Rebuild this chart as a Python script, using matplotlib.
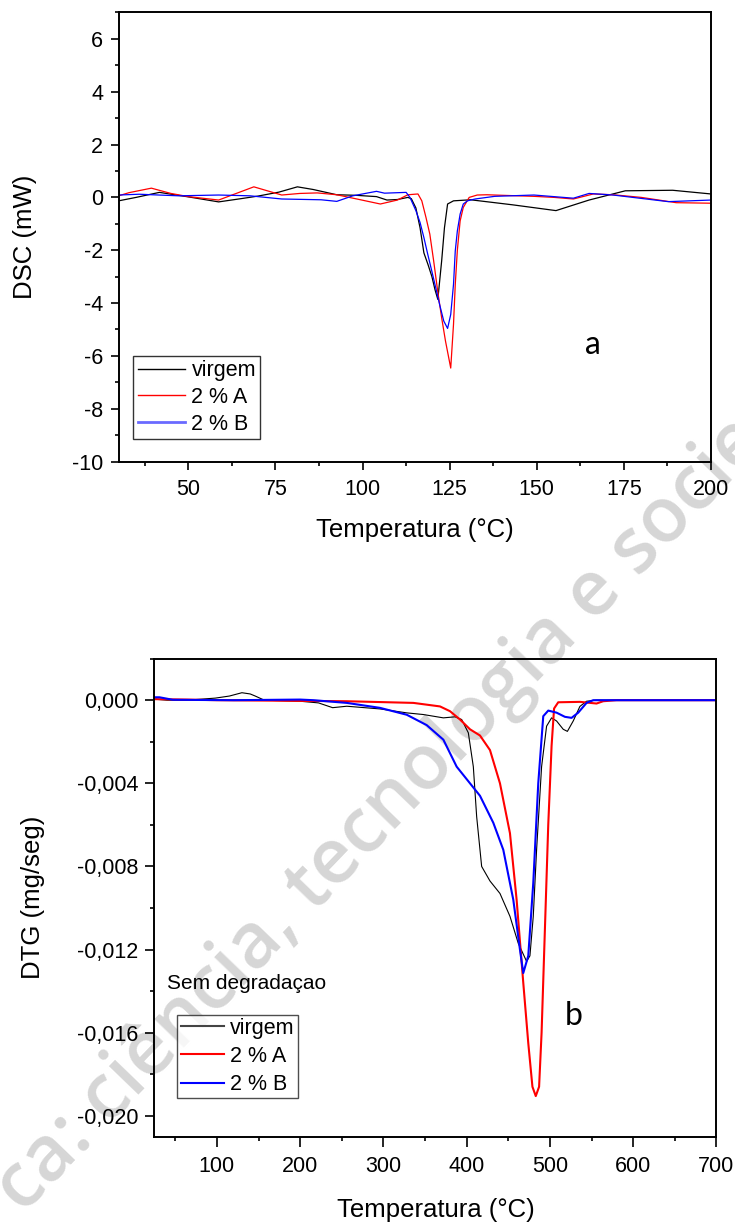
import matplotlib
matplotlib.use('Agg')
import matplotlib.pyplot as plt
from matplotlib.ticker import MultipleLocator, FuncFormatter
from matplotlib.lines import Line2D

# ---- DSC data (panel a) ----
dsc_virgem_t = [30, 35, 41.7, 50, 58.7, 65, 70, 76, 81.3, 85.8, 92.6, 98, 104, 107, 110,
                113.0, 114.0, 115.3, 116.5, 117.6, 118.8, 119.9, 120.8, 121.6, 122.7, 123.5,
                124.4, 126.1, 131, 143, 155.5, 165, 175.4, 189, 200]
dsc_virgem = [-0.13, 0.0, 0.19, 0.02, -0.17, -0.05, 0.05, 0.2, 0.4, 0.3, 0.1, 0.08, 0.03, -0.1, -0.08,
              0.0, -0.05, -0.4, -1.15, -2.1, -2.55, -3.0, -3.5, -3.86, -2.4, -1.15,
              -0.25, -0.13, -0.09, -0.28, -0.5, -0.1, 0.25, 0.27, 0.13]

dsc_a_t = [30, 33, 39.4, 45, 50, 58.7, 68.8, 76.8, 82, 87, 92.6, 98, 105.1, 110, 113, 115.9,
           117.0, 118.2, 119.3, 120.4, 121.55, 122.7, 123.8, 125.3, 126.1, 126.6, 127.2, 128.0,
           128.9, 130.6, 132.9, 135.7, 140, 149.2, 155, 160.5, 166.2, 171.9, 180, 190, 200]
dsc_a = [0.06, 0.18, 0.35, 0.15, 0.03, -0.1, 0.4, 0.09, 0.15, 0.17, 0.1, -0.05, -0.25, -0.1, 0.1, 0.13,
         -0.13, -0.76, -1.39, -2.4, -3.54, -4.56, -5.44, -6.46, -4.8, -3.3, -2.0, -0.89,
         -0.38, 0.0, 0.09, 0.1, 0.08, 0.04, 0.0, -0.06, 0.13, 0.1, 0.0, -0.2, -0.22]

dsc_b_t = [30, 35.9, 47.2, 58.7, 67.7, 76.8, 88.1, 92.6, 97.2, 104, 106.3, 112.5, 113.6,
           115.3, 116.5, 117.6, 118.7, 119.85, 121.0, 122.1, 123.3, 124.4, 125.3, 126.1, 126.6,
           127.2, 128.0, 128.9, 130.1, 132.3, 137.9, 149.2, 160.5, 165, 171.9, 187.7, 200]
dsc_b = [0.09, 0.12, 0.06, 0.09, 0.06, -0.06, -0.09, -0.15, 0.06, 0.23, 0.16, 0.19, 0.0,
         -0.5, -0.95, -1.52, -2.15, -2.78, -3.42, -4.05, -4.68, -4.96, -4.43, -3.29, -2.03,
         -1.27, -0.63, -0.25, -0.13, -0.06, 0.04, 0.09, -0.03, 0.15, 0.09, -0.16, -0.1]

# ---- DTG data (panel b) ----
dtg_virgem_t = [25, 40, 64, 98, 115, 130, 140, 146, 157, 200, 222, 239, 256, 296, 328, 348, 372,
                386, 394, 402, 408, 412, 418, 428, 440, 452, 462, 472, 476, 480, 484, 490, 496,
                502, 508, 516, 521, 528, 536, 544, 556, 700]
dtg_virgem = [0.00005, 0.0, 0.0, 0.0001, 0.0002, 0.00036, 0.0003, 0.0002, 0.0, -0.00005, -0.00013,
              -0.00036, -0.00029, -0.00042, -0.00061, -0.00069, -0.00085, -0.0008, -0.00093,
              -0.00157, -0.0032, -0.0056, -0.008, -0.0087, -0.0093, -0.0104, -0.0117, -0.01257,
              -0.0123, -0.0104, -0.0072, -0.0032, -0.00125, -0.00085, -0.001, -0.0014, -0.0015,
              -0.001, -0.0003, -0.00005, 0.0, 0.0]

dtg_a_t = [25, 64, 100, 256, 336, 368, 380, 392, 404, 416, 428, 440, 452, 460, 468, 474, 479,
           483, 487, 490, 494, 498, 502, 505, 510, 536, 556, 564, 580, 700]
dtg_a = [0.00005, 0.00003, 0.0, -0.00005, -0.00013, -0.0003, -0.00053, -0.00093, -0.0014,
         -0.0017, -0.0024, -0.004, -0.0064, -0.0096, -0.0136, -0.0165, -0.0186, -0.01905,
         -0.0186, -0.016, -0.011, -0.006, -0.0022, -0.0004, -0.0001, -0.00008, -0.00016,
         -0.00005, 0.0, 0.0]

dtg_b_t = [25, 31, 47, 120, 200, 216, 256, 296, 328, 352, 372, 388, 404, 416, 432, 444, 456,
           464, 468, 474, 480, 486, 492, 498, 508, 518, 526, 534, 544, 552, 700]
dtg_b = [0.00014, 0.00014, 0.00002, 0.0, 0.00003, 0.0, -0.00013, -0.00037, -0.0007, -0.0012,
         -0.0019, -0.0032, -0.004, -0.0046, -0.0059, -0.0072, -0.0096, -0.012, -0.01313,
         -0.0123, -0.0088, -0.004, -0.00077, -0.0005, -0.0006, -0.0008, -0.00085, -0.0006,
         -0.00013, 0.0, 0.0]

labels = ['virgem', '2 % A', '2 % B']

plt.rcParams['font.family'] = ['Liberation Sans', 'DejaVu Sans']
plt.rcParams['axes.unicode_minus'] = False

fig = plt.figure(figsize=(7.35, 12.24), dpi=100)

# watermark, drawn behind the (transparent) axes
fig.text(0.031, 0.0074, 'ca: ciência, tecnologia e sociedade', rotation=46,
         rotation_mode='anchor', ha='left', va='baseline', fontsize=55,
         color='#d6d6d6', family='Open Sans', weight='semibold', zorder=-1)


def style_axes(ax, xlen, ylen, xpad):
    ax.set_facecolor('none')
    for s in ax.spines.values():
        s.set_linewidth(1.4)
    ax.tick_params(which='both', direction='out', top=False, right=False,
                   labelsize=15.5, width=1.2)
    ax.tick_params(axis='x', which='major', length=xlen, pad=xpad)
    ax.tick_params(axis='x', which='minor', length=3)
    ax.tick_params(axis='y', which='major', length=ylen, pad=5.5)
    ax.tick_params(axis='y', which='minor', length=3)


# ---- panel a ----
ax1 = fig.add_axes([0.1614, 0.6229, 0.806, 0.3669])
style_axes(ax1, 5.5, 5.5, 7.3)
ax1.plot(dsc_virgem_t, dsc_virgem, color='black', lw=0.9)
ax1.plot(dsc_a_t, dsc_a, color='red', lw=0.9)
ax1.plot(dsc_b_t, dsc_b, color='blue', lw=0.9)
ax1.set_xlim(30, 200)
ax1.set_ylim(-10, 7)
ax1.xaxis.set_major_locator(MultipleLocator(25))
ax1.xaxis.set_minor_locator(MultipleLocator(12.5))
ax1.yaxis.set_major_locator(MultipleLocator(2))
ax1.yaxis.set_minor_locator(MultipleLocator(1))
ax1.set_xticks([50, 75, 100, 125, 150, 175, 200])
ax1.set_xlabel('Temperatura (°C)', fontsize=18.5)
ax1.set_ylabel('DSC (mW)', fontsize=18.5)
ax1.xaxis.set_label_coords(0.5, -0.1267)
ax1.yaxis.set_label_coords(-0.137, 0.5)
ax1.text(166, -5.6, 'a', fontsize=23, family='Lato', ha='center', va='center')

h1 = [Line2D([], [], color='black', lw=1.0),
      Line2D([], [], color='red', lw=1.0),
      Line2D([], [], color='#6a6aff', lw=2.0)]
leg1 = ax1.legend(h1, labels, loc='lower left', bbox_to_anchor=(0.0248, 0.0503),
                  borderaxespad=0, fontsize=15.5, frameon=True, fancybox=False,
                  handlelength=2.2, handletextpad=0.3, labelspacing=0.27, borderpad=0.2)
leg1.get_frame().set_edgecolor('black')
leg1.get_frame().set_linewidth(1.0)

# ---- panel b ----
ax2 = fig.add_axes([0.2102, 0.0714, 0.7645, 0.3905])
style_axes(ax2, 7.5, 6.3, 6.5)
ax2.plot(dtg_virgem_t, dtg_virgem, color='black', lw=0.8)
ax2.plot(dtg_a_t, dtg_a, color='red', lw=1.5)
ax2.plot(dtg_b_t, dtg_b, color='blue', lw=1.5)
ax2.set_xlim(25, 700)
ax2.set_ylim(-0.021, 0.002)
ax2.xaxis.set_major_locator(MultipleLocator(100))
ax2.xaxis.set_minor_locator(MultipleLocator(50))
ax2.yaxis.set_major_locator(MultipleLocator(0.004))
ax2.yaxis.set_minor_locator(MultipleLocator(0.002))
ax2.yaxis.set_major_formatter(FuncFormatter(
    lambda v, p: ('%.3f' % (0.0 if abs(v) < 1e-9 else v)).replace('.', ',')))
ax2.set_xlabel('Temperatura (°C)', fontsize=18.5)
ax2.set_ylabel('DTG (mg/seg)', fontsize=18.5)
ax2.xaxis.set_label_coords(0.5, -0.1274)
ax2.yaxis.set_label_coords(-0.195, 0.5)
ax2.text(39.7, -0.01361, 'Sem degradaçao', fontsize=15, ha='left', va='center')
ax2.text(528, -0.01522, 'b', fontsize=23, family='Lato', ha='center', va='center')

h2 = [Line2D([], [], color='#444444', lw=1.5),
      Line2D([], [], color='red', lw=1.5),
      Line2D([], [], color='blue', lw=1.5)]
leg2 = ax2.legend(h2, labels, loc='lower left', bbox_to_anchor=(0.0406, 0.0801),
                  borderaxespad=0, fontsize=15.5, frameon=True, fancybox=False,
                  handlelength=2.0, handletextpad=0.3, labelspacing=0.33, borderpad=0.15)
leg2.get_frame().set_edgecolor('#222222')
leg2.get_frame().set_linewidth(1.0)

fig.savefig('out.png', dpi=100)
